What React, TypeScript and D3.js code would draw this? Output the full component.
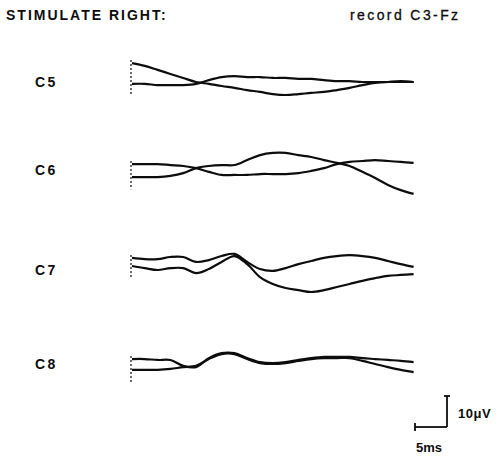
import React from "react";
import * as d3 from "d3";

const title = "STIMULATE RIGHT:";
const recordLabel = "record C3-Fz";
const channels = ["C5", "C6", "C7", "C8"];
const timeMs = [0, 2, 4, 6, 8, 10, 12, 14, 16, 18, 20, 22, 24, 26, 28, 30, 32, 34, 36, 38, 40, 42, 44];

const c5a = [6.1, 5.2, 3.9, 2.6, 1.3, 0, -0.6, -1.3, -1.9, -2.6, -3.2, -3.9, -4.2, -3.9, -3.5, -3.2, -2.6, -1.9, -1.0, -0.3, 0, 0, 0];
const c5b = [-0.6, -0.6, -1.0, -1.0, -1.0, -0.6, 0.6, 1.6, 1.9, 1.6, 1.6, 1.3, 1.3, 1.0, 1.0, 0.6, 0.3, 0.3, 0, 0, 0, 0.3, 0];
const c6a = [1.9, 1.9, 1.9, 1.6, 1.3, 0.6, -0.6, -1.6, -1.6, -1.6, -1.3, -1.3, -1.3, -1.0, -0.3, 0.6, 1.9, 2.6, 2.9, 3.2, 2.9, 2.6, 2.3];
const c6b = [-2.3, -2.3, -2.3, -1.9, -1.0, 0.6, 1.3, 1.6, 1.6, 3.2, 4.8, 5.5, 5.5, 4.8, 4.2, 3.2, 2.3, 1.3, -0.6, -2.6, -4.8, -6.5, -7.7];
const c7a = [3.9, 3.5, 3.5, 4.2, 4.2, 2.6, 3.2, 4.5, 5.2, 2.6, 0.3, -0.3, 0.6, 1.9, 2.9, 3.9, 4.5, 4.8, 4.5, 3.9, 2.9, 1.9, 1.0];
const c7b = [1.3, 0.6, 0, 0.6, 0.6, -1.0, 0.3, 2.6, 4.5, 1.9, -2.3, -4.5, -5.8, -6.5, -7.1, -6.5, -5.5, -4.5, -3.5, -2.6, -1.9, -1.6, -1.3];
const c8a = [1.6, 1.6, 1.3, 1.3, -0.6, -1.0, 1.9, 3.5, 3.5, 1.9, 0.6, 0.3, 0.6, 1.3, 1.9, 2.3, 2.3, 2.3, 1.9, 1.6, 1.3, 1.0, 0.6];
const c8b = [-1.9, -1.9, -1.9, -1.6, -1.0, -0.6, 1.6, 3.2, 3.2, 1.6, 0.3, 0, 0.3, 1.0, 1.6, 1.9, 1.9, 1.9, 1.0, 0, -1.0, -1.9, -2.6];

const traces = [
  [c5a, c5b],
  [c6a, c6b],
  [c7a, c7b],
  [c8a, c8b],
];

const scaleBarMs = 5;
const scaleBarUv = 10;

const W = 499;
const H = 457;
const baselines = [82, 170, 270, 364];
const PX_PER_UV = 3.1;

export default function App() {
  const x = d3.scaleLinear().domain([0, 44]).range([132, 413.6]);
  const uv = (v: number) => v * PX_PER_UV;
  const ink = "#0d0d0d";
  const font = "'Liberation Sans', Arial, Helvetica, sans-serif";

  const barX = 447;
  const barY = 427;
  const barW = x(scaleBarMs) - x(0);
  const barH = uv(scaleBarUv);

  return (
    <svg
      width={W}
      height={H}
      style={{ position: "absolute", left: 0, top: 0, background: "#fff" }}
      fontFamily={font}
    >
      <rect width={W} height={H} fill="#fff" />
      <text x={6} y={20} fontSize={14} fontWeight="bold" letterSpacing={2} fill={ink}>
        {title}
      </text>
      <text x={350} y={20} fontSize={14} letterSpacing={2.4} fill={ink} stroke={ink} strokeWidth={0.3}>
        {recordLabel}
      </text>
      {channels.map((ch, i) => {
        const base = baselines[i];
        const y = d3.scaleLinear().domain([-1, 1]).range([base + PX_PER_UV, base - PX_PER_UV]);
        const line = d3
          .line<number>()
          .x((_, j) => x(timeMs[j]))
          .y((v) => y(v))
          .curve(d3.curveCatmullRom.alpha(0.5));
        const [ta, tb] = traces[i];
        const topStart = Math.min(y(ta[0]), y(tb[0]));
        const botStart = Math.max(y(ta[0]), y(tb[0]));
        return (
          <g key={ch}>
            <text x={35} y={base + 5} fontSize={14} fontWeight="bold" letterSpacing={2.5} fill={ink}>
              {ch}
            </text>
            <line
              x1={x(0) - 1}
              x2={x(0) - 1}
              y1={topStart - 3}
              y2={botStart + 12}
              stroke={ink}
              strokeWidth={1.2}
              strokeDasharray="2,2"
            />
            {traces[i].map((vals, k) => (
              <path key={k} d={line(vals) || ""} fill="none" stroke={ink} strokeWidth={2.2} strokeLinejoin="round" />
            ))}
          </g>
        );
      })}
      <g stroke={ink} strokeWidth={1.8} fill="none">
        <line x1={barX} x2={barX} y1={barY} y2={barY - barH} />
        <line x1={barX - 3} x2={barX + 3} y1={barY - barH} y2={barY - barH} />
        <line x1={barX - barW} x2={barX} y1={barY} y2={barY} />
        <line x1={barX - barW} x2={barX - barW} y1={barY - 4} y2={barY + 4} />
      </g>
      <text x={458} y={418} fontSize={13} fontWeight="bold" letterSpacing={0.5} fill={ink}>
        10μV
      </text>
      <text x={416} y={452} fontSize={13} fontWeight="bold" fill={ink}>
        5ms
      </text>
    </svg>
  );
}
